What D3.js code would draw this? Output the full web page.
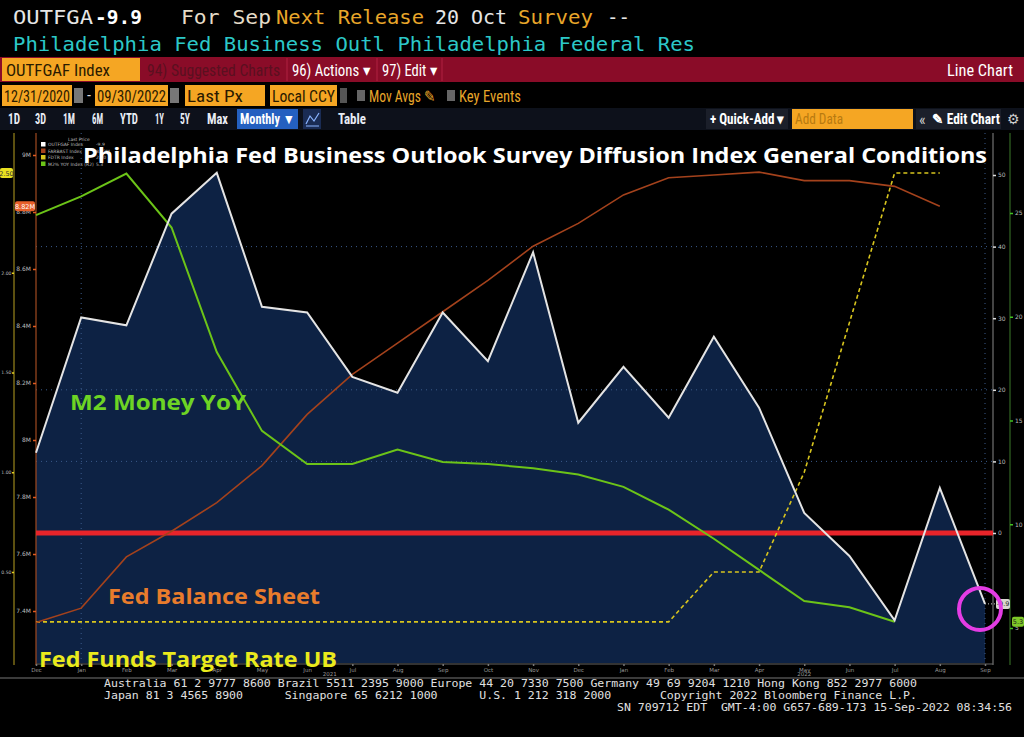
<!DOCTYPE html>
<html><head><meta charset="utf-8">
<script src="https://cdn.jsdelivr.net/npm/d3@7"></script>
<style>
html,body{margin:0;padding:0;background:#000;}
svg{display:block;}
text{white-space:pre;}
</style></head>
<body>
<svg id="c" width="1024" height="737"></svg>
<script>
// ---------- DATA ----------
const months = ["Dec","Jan","Feb","Mar","Apr","May","Jun","Jul","Aug","Sep","Oct","Nov","Dec","Jan","Feb","Mar","Apr","May","Jun","Jul","Aug","Sep"];
const yearLabels = [{label:"2021", from:1, to:12},{label:"2022", from:13, to:21}];
const philly = [11.2,30.1,29.0,44.6,50.3,31.6,30.8,21.8,19.6,30.8,24.0,39.2,15.4,23.2,16.1,27.4,17.5,2.8,-3.2,-12.2,6.3,-9.9];
const m2yoy = [24.9,25.8,26.9,24.3,18.3,14.5,12.9,12.9,13.6,13.0,12.9,12.7,12.4,11.8,10.7,9.3,7.8,6.3,6.0,5.3];
const fedBS = [7.36,7.41,7.59,7.68,7.78,7.91,8.09,8.23,8.34,8.45,8.56,8.68,8.76,8.86,8.92,8.93,8.94,8.91,8.91,8.89,8.82];
const fedFunds = [0.25,0.25,0.25,0.25,0.25,0.25,0.25,0.25,0.25,0.25,0.25,0.25,0.25,0.25,0.25,0.50,0.50,1.00,1.75,2.50,2.50];
const phillyTicks = [0,10,20,30,40,50];
const m2Ticks = [5,10,15,20,25];
const bsTicks = [7.4,7.6,7.8,8.0,8.2,8.4,8.6,8.8,9.0];
const ffTicks = [0.5,1.0,1.5,2.0];
const legendRows = [["OUTFGAF Index","-9.9"],["FARBAST Index","8.82M"],["FDTR Index","2.50"],["M2% YOY Index (R2)","5.3"]];

// ---------- LAYOUT ----------
const svg = d3.select("#c");
const W = 1024;
const plotTop = 133, plotBot = 663, plotL = 36, plotR = 993;

const x = d3.scalePoint().domain(d3.range(months.length)).range([36, 985]);
const yR = d3.scaleLinear().domain([0,50]).range([533,175]);
const yM2 = d3.scaleLinear().domain([5,25]).range([628,213]);
const yBS = d3.scaleLinear().domain([7.4,8.8]).range([611,212]);
const yFF = d3.scaleLinear().domain([0.5,2.5]).range([572,173]);

svg.append("rect").attr("width",W).attr("height",737).attr("fill","#000");

// ---------- HEADER ----------
const mono = "'DejaVu Sans Mono', 'Liberation Mono', monospace";
const narrow = "'Liberation Sans Narrow','Roboto Condensed','Liberation Sans',Arial,sans-serif";
function txt(g, t, xx, yy, opts) {
  const e = g.append("text").attr("x",xx).attr("y",yy).text(t)
    .attr("fill",opts.fill||"#fff").attr("font-family",opts.font||narrow)
    .attr("font-size",opts.size||12).attr("font-weight",opts.weight||"normal");
  if (opts.anchor) e.attr("text-anchor",opts.anchor);
  if (opts.len) e.attr("textLength",opts.len).attr("lengthAdjust","spacingAndGlyphs");
  return e;
}
const hdr = svg.append("g");
txt(hdr,"OUTFGA",13,24,{font:mono,size:20,fill:"#e6e6e6",len:80});
txt(hdr,"-9.9",95,24,{font:mono,size:20,fill:"#ffffff",weight:"bold",len:47});
txt(hdr,"For Sep",181,24,{font:mono,size:20,fill:"#e6dcc8",len:90});
txt(hdr,"Next Release",276,24,{font:mono,size:20,fill:"#e8a62a",len:148});
txt(hdr,"20 Oct",435,24,{font:mono,size:20,fill:"#e6e6e6",len:72});
txt(hdr,"Survey",518,24,{font:mono,size:20,fill:"#e8a62a",len:75});
txt(hdr,"--",607,24,{font:mono,size:20,fill:"#e6e6e6",len:23});
txt(hdr,"Philadelphia Fed Business Outl Philadelphia Federal Res",13,51,{font:mono,size:20,fill:"#2cc8c8",len:682});

// Row 3: red bar
hdr.append("rect").attr("x",0).attr("y",57).attr("width",W).attr("height",25).attr("fill","#8a0c28");
hdr.append("rect").attr("x",2).attr("y",58).attr("width",138).attr("height",23).attr("fill","#f5a623");
txt(hdr,"OUTFGAF Index",6,76,{size:17,fill:"#2a1a00",len:104});
txt(hdr,"94) Suggested Charts",147,76,{size:16,fill:"#5a1020",len:133});
hdr.append("line").attr("x1",287).attr("x2",287).attr("y1",58).attr("y2",81).attr("stroke","#b02040");
txt(hdr,"96) Actions \u25BE",292,76,{size:16,fill:"#fff",len:78});
hdr.append("line").attr("x1",377).attr("x2",377).attr("y1",58).attr("y2",81).attr("stroke","#b02040");
txt(hdr,"97) Edit \u25BE",382,76,{size:16,fill:"#fff",len:55});
hdr.append("line").attr("x1",442).attr("x2",442).attr("y1",58).attr("y2",81).attr("stroke","#b02040");
txt(hdr,"Line Chart",947,76,{size:17,fill:"#fff",len:66});

// Row 4
const r4y = 85, r4h = 21;
[[2,70,"12/31/2020"],[95,73,"09/30/2022"],[185,80,"Last Px"],[270,67,"Local CCY"]].forEach(d=>{
  hdr.append("rect").attr("x",d[0]).attr("y",r4y).attr("width",d[1]).attr("height",r4h).attr("fill","#f5a623");
  txt(hdr,d[2],d[0]+2,r4y+17,{size:16,fill:"#2a1a00",len:d[2].length>8?d[1]-4:Math.min(d[1]-8,d[2].length*8)});
});
[[74,85],[170,85]].forEach(d=>{
  hdr.append("rect").attr("x",d[0]).attr("y",d[1]+3).attr("width",9).attr("height",15).attr("fill","#777");
});
txt(hdr,"-",87,r4y+16,{size:16,fill:"#ddd"});
hdr.append("rect").attr("x",340).attr("y",r4y+3).attr("width",7).attr("height",15).attr("fill","#555");
hdr.append("rect").attr("x",357).attr("y",r4y+5).attr("width",8).attr("height",11).attr("fill","#666");
txt(hdr,"Mov Avgs \u270E",369,r4y+17,{size:16,fill:"#e8a62a",len:66});
hdr.append("rect").attr("x",447).attr("y",r4y+5).attr("width",8).attr("height",11).attr("fill","#666");
txt(hdr,"Key Events",459,r4y+17,{size:16,fill:"#e8a62a",len:62});

// Row 5
hdr.append("rect").attr("x",0).attr("y",108).attr("width",W).attr("height",22).attr("fill","#0d111b");
const r5 = [["1D",8,12],["3D",35,11],["1M",63,12],["6M",92,11],["YTD",120,18],["1Y",155,9],["5Y",180,10],["Max",207,21]];
r5.forEach(d=>txt(hdr,d[0],d[1],124,{size:14,fill:"#e8ecf4",weight:"bold",len:d[2]}));
hdr.append("rect").attr("x",237).attr("y",109).attr("width",61).attr("height",20).attr("fill","#2460c0");
txt(hdr,"Monthly \u25BC",240,124,{size:14,fill:"#fff",weight:"bold",len:55});
hdr.append("rect").attr("x",303).attr("y",109).attr("width",18).attr("height",20).attr("fill","#1a2c54");
hdr.append("path").attr("d","M306,124 L310,116 L314,121 L319,113 M306,126 L319,126").attr("stroke","#8ab4ff").attr("fill","none").attr("stroke-width",1.2);
txt(hdr,"Table",338,124,{size:14,fill:"#e8ecf4",weight:"bold",len:28});
hdr.append("rect").attr("x",706).attr("y",109).attr("width",82).attr("height",20).attr("fill","#1b1f2a");
txt(hdr,"+ Quick-Add \u25BE",710,124,{size:14,fill:"#fff",weight:"bold",len:74});
hdr.append("rect").attr("x",792).attr("y",109).attr("width",121).attr("height",20).attr("fill","#f5a623");
txt(hdr,"Add Data",795,124,{size:15,fill:"#b87a10",len:48});
hdr.append("rect").attr("x",916).attr("y",109).attr("width",85).attr("height",20).attr("fill","#1b1f2a");
txt(hdr,"\u00AB",919,125,{size:16,fill:"#ccc"});
txt(hdr,"\u270E Edit Chart",932,124,{size:14,fill:"#fff",weight:"bold",len:68});
txt(hdr,"\u2699",1007,124,{size:14,fill:"#ccc"});

// ---------- CHART ----------
const ch = svg.append("g");
const area = d3.area().x((d,i)=>x(i)).y0(plotBot).y1(d=>yR(d));
ch.append("path").datum(philly).attr("d",area).attr("fill","#0d2244");

// grid (dotted)
const gridG = ch.append("g").attr("stroke","#3a5a8a").attr("stroke-dasharray","1,4").attr("stroke-width",1);
[10,20,40].forEach(v=>gridG.append("line").attr("x1",plotL).attr("x2",plotR).attr("y1",yR(v)).attr("y2",yR(v)));
[1,21].forEach(i=>gridG.append("line").attr("x1",x(i)).attr("x2",x(i)).attr("y1",plotTop).attr("y2",plotBot));

// Axis lines
ch.append("line").attr("x1",14).attr("x2",14).attr("y1",plotTop).attr("y2",plotBot+2).attr("stroke","#b8a020").attr("stroke-width",1);
ch.append("line").attr("x1",plotL).attr("x2",plotL).attr("y1",plotTop).attr("y2",plotBot+2).attr("stroke","#a04a20").attr("stroke-width",1.2);
ch.append("line").attr("x1",plotR).attr("x2",plotR).attr("y1",plotTop).attr("y2",plotBot+2).attr("stroke","#888").attr("stroke-width",1);
ch.append("line").attr("x1",1010).attr("x2",1010).attr("y1",plotTop).attr("y2",plotBot+2).attr("stroke","#3c7a2a").attr("stroke-width",1);
ch.append("line").attr("x1",plotL).attr("x2",plotR).attr("y1",plotBot+1).attr("y2",plotBot+1).attr("stroke","#666").attr("stroke-width",1);

function styleAxis(g, col, fs) {
  g.select(".domain").remove();
  g.selectAll(".tick line").attr("stroke",col).attr("stroke-width",1.5);
  g.selectAll(".tick text").attr("fill","#bbb").attr("font-size",fs||6).attr("font-family","'DejaVu Sans',sans-serif");
}
const fmtBS = v => (Math.round(v*10)/10).toString() + "M";
ch.append("g").attr("transform","translate(36,0)")
  .call(d3.axisLeft(yBS).tickValues(bsTicks).tickSize(3).tickPadding(2).tickFormat(fmtBS))
  .call(g=>styleAxis(g,"#e05a20"));
ch.append("g").attr("transform","translate(14,0)")
  .call(d3.axisLeft(yFF).tickValues(ffTicks).tickSize(2).tickPadding(0.5).tickFormat(d3.format(".2f")))
  .call(g=>styleAxis(g,"#e0d020",4.6));
ch.append("g").attr("transform","translate(993,0)")
  .call(d3.axisRight(yR).tickValues(phillyTicks).tickSize(3).tickPadding(2).tickFormat(d3.format("d")))
  .call(g=>styleAxis(g,"#ddd"));
ch.append("g").attr("transform","translate(1010,0)")
  .call(d3.axisRight(yM2).tickValues(m2Ticks).tickSize(3).tickPadding(2).tickFormat(d3.format("d")))
  .call(g=>styleAxis(g,"#40c020"));
const xa = ch.append("g").attr("transform",`translate(0,${plotBot+1})`)
  .call(d3.axisBottom(x).tickSize(2).tickPadding(2).tickFormat(i=>months[i]));
styleAxis(xa,"#777");
xa.selectAll(".tick text").attr("font-size",5.5).attr("fill","#999");
yearLabels.forEach(y=>{
  ch.append("text").attr("x",(x(y.from)+x(y.to))/2).attr("y",plotBot+13).attr("text-anchor","middle")
    .attr("font-size",5.5).attr("fill","#999").attr("font-family","'DejaVu Sans',sans-serif").text(y.label);
});

// zero line (red)
ch.append("line").attr("x1",plotL).attr("x2",plotR).attr("y1",yR(0)).attr("y2",yR(0)).attr("stroke","#e8242a").attr("stroke-width",5);

// lines
const line = (ys)=>d3.line().x((d,i)=>x(i)).y(d=>ys(d));
ch.append("path").datum(fedFunds).attr("d",line(yFF)).attr("fill","none").attr("stroke","#d8c51e").attr("stroke-width",1.6).attr("stroke-dasharray","4,3");
ch.append("path").datum(fedBS).attr("d",line(yBS)).attr("fill","none").attr("stroke","#a4421c").attr("stroke-width",1.6);
ch.append("path").datum(m2yoy).attr("d",line(yM2)).attr("fill","none").attr("stroke","#6cc418").attr("stroke-width",2);
ch.append("path").datum(philly).attr("d",line(yR)).attr("fill","none").attr("stroke","#e4e4e4").attr("stroke-width",2);

// last-value labels
function valBox(cx, cy, w, fill, t, tcol) {
  ch.append("rect").attr("x",cx).attr("y",cy-5).attr("width",w).attr("height",10).attr("rx",2).attr("fill",fill);
  ch.append("text").attr("x",cx+w/2).attr("y",cy+2.5).attr("text-anchor","middle").attr("font-size",6.5)
    .attr("font-family","'DejaVu Sans',sans-serif").attr("fill",tcol).text(t);
}
valBox(0, yFF(fedFunds[fedFunds.length-1]), 13, "#e8e020", d3.format(".2f")(fedFunds[fedFunds.length-1]), "#333");
valBox(15, yBS(fedBS[fedBS.length-1]), 20, "#e8602a", fedBS[fedBS.length-1].toFixed(2)+"M", "#fff");
ch.append("line").attr("x1",x(21)).attr("x2",996).attr("y1",yR(philly[21])).attr("y2",yR(philly[21])).attr("stroke","#ccc").attr("stroke-dasharray","1,2");
valBox(996, yR(philly[21]), 14, "#d8d8d0", philly[21].toFixed(1), "#222");
valBox(1012, yM2(m2yoy[m2yoy.length-1]), 12, "#7ec828", m2yoy[m2yoy.length-1].toFixed(1), "#222");

// legend
const lg = ch.append("g").attr("font-family","'DejaVu Sans',sans-serif").attr("font-size",4.5).attr("fill","#bbb");
lg.append("text").attr("x",68).attr("y",141).text("Last Price");
const lgCols = ["#ffffff","#a4421c","#d8c51e","#6cc418"];
legendRows.forEach((r,i)=>{
  const yy = 146 + i*6.5;
  lg.append("rect").attr("x",41).attr("y",yy-4).attr("width",4.5).attr("height",4.5).attr("fill",lgCols[i]);
  lg.append("text").attr("x",48).attr("y",yy).text(r[0]);
  lg.append("text").attr("x",96).attr("y",yy).text(r[1]);
});

// title & annotations
const ann = "'Open Sans','Lato','Noto Sans',sans-serif";
txt(ch,"Philadelphia Fed Business Outlook Survey Diffusion Index General Conditions",83,163,{font:ann,size:22,weight:"bold",fill:"#ffffff",len:904});
txt(ch,"M2 Money YoY",70,410,{font:ann,size:21,weight:"bold",fill:"#6ed424",len:176});
txt(ch,"Fed Balance Sheet",108,604,{font:ann,size:21,weight:"bold",fill:"#e87c2c",len:212});
txt(ch,"Fed Funds Target Rate UB",39,667,{font:ann,size:22,weight:"bold",fill:"#eaea1c",len:298});

// magenta circle
ch.append("circle").attr("cx",980).attr("cy",609).attr("r",21).attr("fill","none").attr("stroke","#e43ce4").attr("stroke-width",4);

// ---------- FOOTER ----------
svg.append("line").attr("x1",0).attr("x2",W).attr("y1",678).attr("y2",678).attr("stroke","#777").attr("stroke-width",1);
const ft = svg.append("g");
txt(ft,"Australia 61 2 9777 8600 Brazil 5511 2395 9000 Europe 44 20 7330 7500 Germany 49 69 9204 1210 Hong Kong 852 2977 6000",104,687,{font:mono,size:11,fill:"#e0e0e0",len:813});
txt(ft,"Japan 81 3 4565 8900      Singapore 65 6212 1000      U.S. 1 212 318 2000       Copyright 2022 Bloomberg Finance L.P.",104,699,{font:mono,size:11,fill:"#e0e0e0",len:813}).attr("xml:space","preserve");
txt(ft,"SN 709712 EDT  GMT-4:00 G657-689-173 15-Sep-2022 08:34:56",617,711,{font:mono,size:11,fill:"#e0e0e0",len:395}).attr("xml:space","preserve");
</script>
</body></html>
